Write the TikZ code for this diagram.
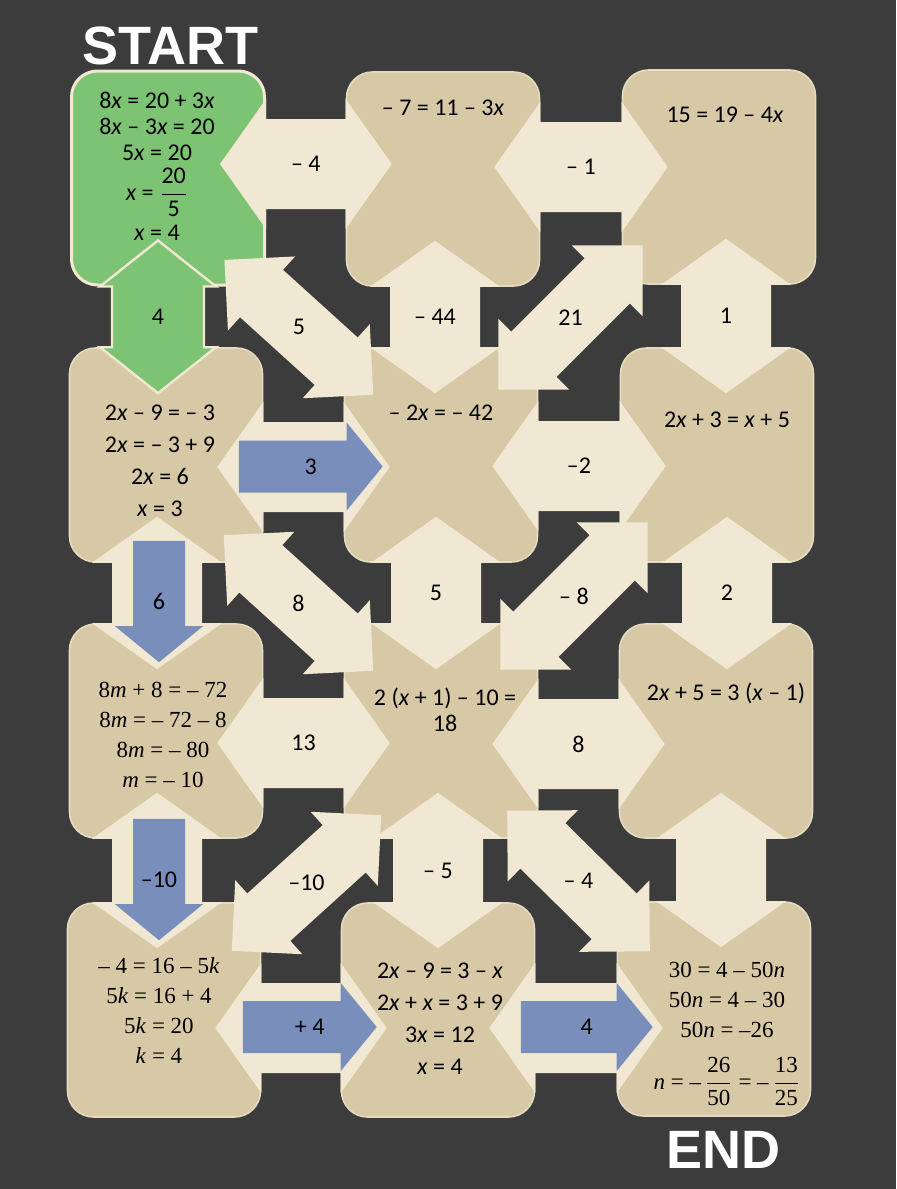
\documentclass[tikz,border=0pt]{standalone}
\usepackage{amsmath}
\usepackage{fontspec}
\setmainfont{Carlito}
\newfontfamily\serifeq{Liberation Serif}
\newfontfamily\headfont{Liberation Sans}
\usepackage{tikz}
\usetikzlibrary{calc}
\definecolor{board}{RGB}{60,60,60}
\definecolor{mtan}{RGB}{216,201,166}
\definecolor{mtanedge}{RGB}{228,218,192}
\definecolor{mcream}{RGB}{240,232,210}
\definecolor{mgreen}{RGB}{124,196,115}
\definecolor{mblue}{RGB}{122,142,188}
\tikzset{box/.style = {rectangle, rounded corners=13pt, minimum width=96.5pt,
                       minimum height=107pt, fill=mtan, draw=mtanedge, line width=0.8pt},
         eq/.style = {font=\fontsize{12}{13}\selectfont, align=center},
         eqwide/.style = {font=\fontsize{12}{16}\selectfont, align=center},
         eqserif/.style = {font=\serifeq\fontsize{11.5}{15}\selectfont, align=center},
         tag/.style = {font=\fontsize{12}{14}\selectfont},
         banner/.style = {font=\headfont\bfseries\fontsize{27}{30}\selectfont, text=white},
         straight/.code = {\def\headlen{23pt}\def\headhalf{32.5pt}\def\shafthalf{22.5pt}%
                           \tikzset{arrow body/.style={fill=mcream}}},
         greenway/.code = {\def\headlen{23pt}\def\headhalf{29pt}\def\shafthalf{23pt}%
                           \tikzset{arrow body/.style={fill=mgreen, draw=mcream, line width=1.2pt}}},
         slanted/.code = {\def\headlen{25pt}\def\headhalf{25pt}\def\shafthalf{16pt}%
                          \tikzset{arrow body/.style={fill=mcream}}},
         pointer/.code = {\def\headlen{18pt}\def\headhalf{22pt}\def\shafthalf{13pt}%
                          \tikzset{arrow body/.style={fill=mblue}}}}
\newcommand{\dblarrow}[5][straight]{%
  \begin{scope}[#1]
    \coordinate (fa) at #2;
    \coordinate (fb) at #3;
    \path [arrow body] ($(fa)!-\headlen!(fb)$) -- ($(fa)!\headhalf!90:(fb)$)
      -- ($(fa)!\shafthalf!90:(fb)$) -- ($(fb)!\shafthalf!-90:(fa)$)
      -- ($(fb)!\headhalf!-90:(fa)$) -- ($(fb)!-\headlen!(fa)$)
      -- ($(fb)!\headhalf!90:(fa)$) -- ($(fb)!\shafthalf!90:(fa)$)
      -- ($(fa)!\shafthalf!-90:(fb)$) -- ($(fa)!\headhalf!-90:(fb)$) -- cycle;
    \ifx&#5&\else\node [tag] (#4) at ($(fa)!.5!(fb)$) {#5};\fi
  \end{scope}}
\newcommand{\onearrow}[5][pointer]{%
  \begin{scope}[#1]
    \coordinate (fa) at #2;
    \coordinate (fb) at #3;
    \path [arrow body] ($(fa)!\shafthalf!90:(fb)$) -- ($(fb)!\shafthalf!-90:(fa)$)
      -- ($(fb)!\headhalf!-90:(fa)$) -- ($(fb)!-\headlen!(fa)$)
      -- ($(fb)!\headhalf!90:(fa)$) -- ($(fb)!\shafthalf!90:(fa)$)
      -- ($(fa)!\shafthalf!-90:(fb)$) -- cycle;
    \node [tag] (#4) at ($(fa)!.5!($(fb)!-\headlen!(fa)$)$) {#5};
  \end{scope}}

\begin{document}
\begin{tikzpicture}[x=0.5pt, y=-0.5pt]
    \useasboundingbox (0, 0) rectangle (896, 1189);
    \fill [board] (0, 0) rectangle (896, 1189);

    \node [box, fill=mgreen, draw=mcream, line width=1.5pt] (b11) at (168, 178) {};
    \node [box] (b12) at (443, 179) {};
    \node [box] (b13) at (719, 177) {};
    \node [box] (b21) at (166, 455) {};
    \node [box] (b22) at (441, 455) {};
    \node [box] (b23) at (717, 455) {};
    \node [box] (b31) at (166, 731) {};
    \node [box] (b32) at (441, 731) {};
    \node [box] (b33) at (716, 731) {};
    \node [box] (b41) at (164, 1010) {};
    \node [box] (b42) at (438, 1010) {};
    \node [box] (b43) at (714, 1009) {};

    \dblarrow{([shift={(0,-14)}]b11.east)}{([shift={(0,-15)}]b12.west)}{l1}{– 4}
    \dblarrow{([shift={(0,-12)}]b12.east)}{([shift={(0,-10)}]b13.west)}{l2}{– 1}
    \dblarrow{([shift={(0,12)}]b21.east)}{([shift={(0,12)}]b22.west)}{l3}{}
    \dblarrow{([shift={(0,11)}]b22.east)}{([shift={(0,11)}]b23.west)}{l4}{–2}
    \dblarrow{([shift={(0,12)}]b31.east)}{([shift={(0,12)}]b32.west)}{l5}{13}
    \dblarrow{([shift={(0,13)}]b32.east)}{([shift={(0,13)}]b33.west)}{l6}{8}
    \dblarrow{([shift={(0,18)}]b41.east)}{([shift={(0,18)}]b42.west)}{l7}{}
    \dblarrow{([shift={(0,18)}]b42.east)}{([shift={(0,19)}]b43.west)}{l8}{}

    \dblarrow[greenway]{([shift={(-10,0)}]b11.south)}{([shift={(-8,0)}]b21.north)}{v1}{4}
    \dblarrow{([shift={(-9,0)}]b21.south)}{([shift={(-9,0)}]b31.north)}{v2}{}
    \dblarrow{([shift={(-9,0)}]b31.south)}{([shift={(-7,0)}]b41.north)}{v3}{}
    \dblarrow{([shift={(-8,0)}]b12.south)}{([shift={(-6,0)}]b22.north)}{v4}{– 44}
    \dblarrow{([shift={(-5,0)}]b22.south)}{([shift={(-5,0)}]b32.north)}{v5}{5}
    \dblarrow{([shift={(-3,0)}]b32.south)}{(b42.north)}{v6}{– 5}
    \dblarrow{([shift={(7,0)}]b13.south)}{([shift={(9,0)}]b23.north)}{v7}{1}
    \dblarrow{([shift={(10,0)}]b23.south)}{([shift={(11,0)}]b33.north)}{v8}{2}
    \dblarrow{([shift={(5,0)}]b33.south)}{([shift={(7,0)}]b43.north)}{v9}{}

    \dblarrow[slanted]{([shift={(-4.5,7)}]b11.south east)}{([shift={(-7.5,14)}]b22.north west)}{d1}{5}
    \dblarrow[slanted]{([shift={(-4.5,7)}]b22.north east)}{([shift={(-14.5,-4)}]b13.south west)}{d2}{21}
    \dblarrow[slanted]{([shift={(-2.5,6)}]b21.south east)}{([shift={(-7.5,14)}]b32.north west)}{d3}{8}
    \dblarrow[slanted]{([shift={(-2.5,11)}]b32.north east)}{([shift={(-7.5,-5)}]b23.south west)}{d4}{– 8}
    \dblarrow[slanted]{([shift={(0.5,10)}]b32.south west)}{([shift={(7.5,15)}]b41.north east)}{d5}{–10}
    \dblarrow[slanted]{([shift={(4.5,7)}]b32.south east)}{([shift={(-2.5,15)}]b43.north west)}{d6}{– 4}

    \onearrow{([shift={(-24.5,11.5)}]b21.east)}{([shift={(3,11.5)}]b22.west)}{p1}{3}
    \onearrow{([shift={(-7,-22)}]b21.south)}{([shift={(-7,3)}]b31.north)}{p2}{6}
    \onearrow{([shift={(-7,-20)}]b31.south)}{([shift={(-5,2)}]b41.north)}{p3}{–10}
    \onearrow{([shift={(-18.5,17)}]b41.east)}{([shift={(0,17)}]b42.west)}{p4}{+ 4}
    \onearrow{([shift={(-14.5,17)}]b42.east)}{([shift={(0,18)}]b43.west)}{p5}{4}

    \node [eq] (t11) at (157, 166) {8\textit{x} = 20 + 3\textit{x}\\8\textit{x} – 3\textit{x} = 20\\5\textit{x} = 20\\[3pt]
      \textit{x} = $\dfrac{\text{20}}{\text{5}}$\\[3pt]\textit{x} = 4};
    \node [eq] (t12) at (443, 108) {– 7 = 11 – 3\textit{x}};
    \node [eq] (t13) at (725, 115) {15 = 19 – 4\textit{x}};
    \node [eqwide] (t21) at (160, 461) {2\textit{x} – 9 = – 3\\2\textit{x} = – 3 + 9\\2\textit{x} = 6\\\textit{x} = 3};
    \node [eq] (t22) at (441, 413) {– 2\textit{x} = – 42};
    \node [eq] (t23) at (727, 420) {2\textit{x} + 3 = \textit{x} + 5};
    \node [eqserif] (t31) at (163, 735) {8\textit{m} + 8 = – 72\\8\textit{m} = – 72 – 8\\8\textit{m} = – 80\\\textit{m} = – 10};
    \node [eq] (t32) at (445, 710) {2 (\textit{x} + 1) – 10 =\\18};
    \node [eq] (t33) at (726, 693) {2\textit{x} + 5 = 3 (\textit{x} – 1)};
    \node [eqserif] (t41) at (159, 1011) {– 4 = 16 – 5\textit{k}\\5\textit{k} = 16 + 4\\5\textit{k} = 20\\\textit{k} = 4};
    \node [eqwide] (t42) at (440, 1019) {2\textit{x} – 9 = 3 – \textit{x}\\2\textit{x} + \textit{x} = 3 + 9\\3\textit{x} = 12\\\textit{x} = 4};
    \node [eqserif] (t43) at (727, 1034) {30 = 4 – 50\textit{n}\\50\textit{n} = 4 – 30\\50\textit{n} = –26\\[9pt]
      \textit{n} = –\,$\dfrac{\text{26}}{\text{50}}$ = –\,$\dfrac{\text{13}}{\text{25}}$};

    \node [banner] (startlbl) at (170, 46) {START};
    \node [banner] (endlbl) at (723, 1150) {END};
  \end{tikzpicture}
\end{document}
